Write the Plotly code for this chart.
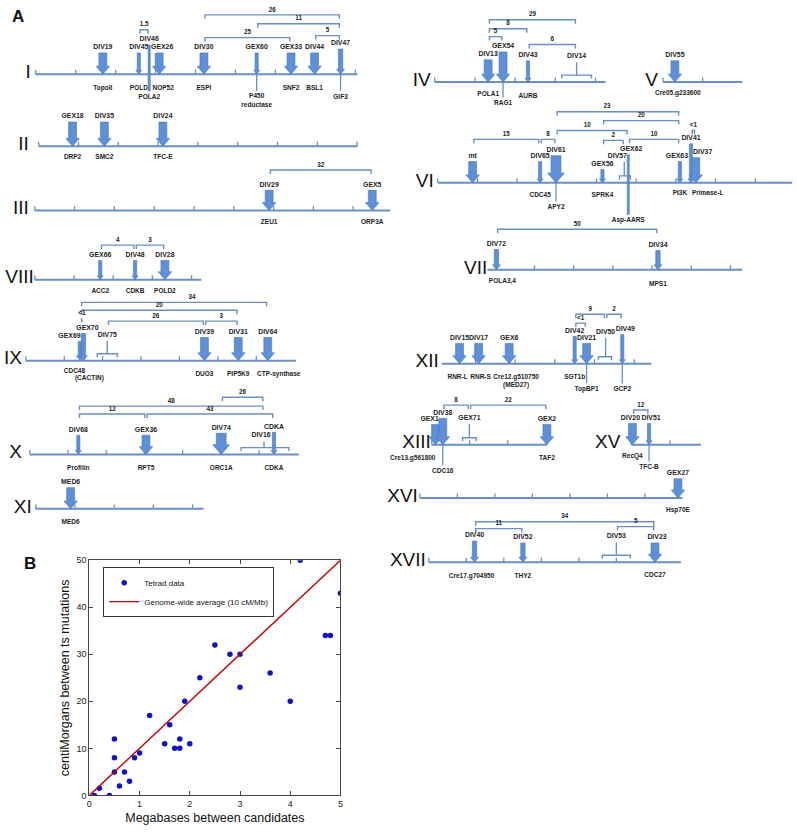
import plotly.graph_objects as go

# ======================= DATA =======================
# ---- Panel B: genetic vs physical distance between candidates ----
mb_between = [0.1, 0.2, 0.4, 0.5, 0.5, 0.5, 0.6, 0.7, 0.8, 0.9, 1.0, 1.2, 1.5, 1.6, 1.7,
              1.8, 1.8, 1.9, 2.0, 2.2, 2.5, 2.8, 3.0, 3.0, 3.6, 4.0, 4.2, 4.7, 4.8, 5.0]
cm_between = [0, 1.5, 0, 5, 8, 12, 2, 5, 3, 8, 9, 17, 11, 15, 10,
              10, 12, 20, 11, 25, 32, 30, 30, 23, 26, 20, 50, 34, 34, 43]
genome_avg_rate = 10          # cM per Mb
avg_mb = [0, 5]

# ---- Panel A: chromosomes (map units = Mb) ----
chrom_names = ["I", "II", "III", "VIII", "IX", "X", "XI", "IV", "V", "VI", "VII",
               "XII", "XIII", "XV", "XVI", "XVII"]
chrom_start_mb = [0, 0, 0, 0, 0, 0, 0, 0, 0, 0, -0.2, 0.15, 0, 0, 0, 0]
chrom_end_mb = [8.05, 8.0, 8.93, 4.25, 7.03, 7.04, 4.28, 4.25, 2.0, 8.93, 6.3,
                5.43, 3.03, 1.8, 7.0, 6.72]
chrom_ticks_mb = [list(range(0, 9)), list(range(0, 9)), list(range(0, 9)), list(range(0, 5)),
                  list(range(0, 7)), list(range(0, 7)), list(range(0, 5)), list(range(0, 5)),
                  [0, 1], list(range(0, 9)), list(range(1, 7)), list(range(1, 6)),
                  list(range(0, 4)), [0, 1], list(range(0, 7)), list(range(0, 6))]

marker_chrom = (["I"] * 9 + ["II"] * 3 + ["III"] * 2 + ["VIII"] * 3 + ["IX"] * 6 + ["X"] * 5 +
                ["XI"] + ["IV"] * 4 + ["V"] + ["VI"] * 9 + ["VII"] * 2 + ["XII"] * 7 +
                ["XIII"] * 4 + ["XV"] * 2 + ["XVI"] + ["XVII"] * 4)
marker_id = ["DIV19", "DIV45", "DIV46", "GEX26", "DIV30", "GEX60", "GEX33", "DIV44", "DIV47",
             "GEX18", "DIV35", "DIV24",
             "DIV29", "GEX5",
             "GEX66", "DIV48", "DIV28",
             "GEX69", "GEX70", "DIV75", "DIV39", "DIV31", "DIV64",
             "DIV68", "GEX36", "DIV74", "DIV16", "CDKA",
             "MED6",
             "DIV13", "GEX54", "DIV43", "DIV14",
             "DIV55",
             "mt", "DIV65", "DIV61", "GEX56", "DIV57", "GEX62", "GEX63", "DIV41", "DIV37",
             "DIV72", "DIV34",
             "DIV15", "DIV17", "GEX6", "DIV42", "DIV21", "DIV50", "DIV49",
             "GEX1", "DIV38", "GEX71", "GEX2",
             "DIV20", "DIV51",
             "GEX27",
             "DIV40", "DIV52", "DIV53", "DIV23"]
marker_mb = [1.68, 2.58, 2.84, 3.09, 4.21, 5.53, 6.39, 6.98, 7.63,
             0.85, 1.65, 3.12,
             5.89, 8.48,
             1.67, 2.56, 3.32,
             1.42, 1.50, 2.12, 4.65, 5.53, 6.30,
             1.27, 3.04, 5.01, 6.13, 6.39,
             0.89,
             1.33, 1.70, 2.32, 3.53,
             0.30,
             0.88, 2.58, 2.98, 4.15, 4.70, 4.80, 6.10, 6.38, 6.50,
             0.03, 4.15,
             0.60, 1.08, 1.85, 3.50, 3.80, 4.28, 4.70,
             0.10, 0.29, 0.99, 3.03,
             0.03, 0.46,
             6.88,
             1.22, 2.51, 5.00, 6.03]
marker_gene = ["TopoII", "POLD", "POLA2", "NOP52", "ESPI", "P450<br>reductase", "SNF2", "BSL1", "GIF3",
               "DRP2", "SMC2", "TFC-E",
               "ZEU1", "ORP3A",
               "ACC2", "CDKB", "POLD2",
               "CDC48", "(CACTIN)", "", "DUO3", "PIP5K9", "CTP-synthase",
               "Profilin", "RPT5", "ORC1A", "", "CDKA",
               "MED6",
               "POLA1", "RAG1", "AURB", "",
               "Cre05.g233600",
               "", "CDC45", "APY2", "SPRK4", "", "Asp-AARS", "PI3K", "", "Primase-L",
               "POLA3,4", "MPS1",
               "RNR-L", "RNR-S", "Cre12.g510750<br>(MED27)", "SGT1b", "TopBP1", "", "GCP2",
               "Cre13.g561800", "CDC16", "", "TAF2",
               "RecQ4", "TFC-B",
               "Hsp70E",
               "Cre17.g704950", "THY2", "", "CDC27"]

# markers mapped only to an interval
interval_id = ["DIV75", "DIV16", "DIV14", "DIV57", "DIV50", "GEX71", "DIV53"]
interval_lo_mb = [1.86, 5.53, 3.16, 4.58, 4.10, 0.81, 4.63]
interval_hi_mb = [2.38, 6.78, 3.90, 4.85, 4.43, 1.17, 5.37]

# tetrad-measured genetic distances (cM) between marker pairs
bracket_chrom = ["I", "I", "I", "I", "I", "III", "VIII", "VIII",
                 "IX", "IX", "IX", "IX", "IX", "X", "X", "X", "X",
                 "IV", "IV", "IV", "IV",
                 "VI", "VI", "VI", "VI", "VI", "VI", "VI", "VI",
                 "VII", "XII", "XII", "XII", "XIII", "XIII", "XV",
                 "XVII", "XVII", "XVII"]
bracket_from = ["DIV45", "DIV30", "DIV30", "GEX60", "DIV44", "DIV29", "GEX66", "DIV48",
                "GEX69", "GEX69", "GEX69", "DIV75", "DIV39", "DIV68", "DIV74", "DIV68", "GEX36",
                "DIV13", "DIV13", "DIV13", "DIV43",
                "DIV61", "GEX56", "DIV61", "mt", "DIV65", "GEX56", "GEX62", "DIV41",
                "DIV72", "DIV42", "DIV50", "DIV42", "DIV38", "GEX71", "DIV20",
                "DIV40", "DIV40", "DIV53"]
bracket_to = ["DIV46", "GEX33", "DIV47", "DIV47", "DIV47", "GEX5", "DIV48", "DIV28",
              "DIV64", "DIV31", "GEX70", "DIV39", "DIV31", "DIV16", "DIV16", "GEX36", "CDKA",
              "DIV14", "DIV43", "GEX54", "DIV14",
              "GEX63", "GEX63", "GEX62", "DIV65", "DIV61", "DIV57", "GEX63", "DIV37",
              "DIV34", "DIV50", "DIV49", "DIV21", "GEX71", "GEX2", "DIV51",
              "DIV23", "DIV52", "DIV23"]
bracket_cm = ["1.5", "25", "26", "11", "5", "32", "4", "3",
              "34", "20", "<1", "26", "3", "48", "26", "12", "43",
              "29", "8", "5", "6",
              "23", "20", "10", "15", "8", "2", "10", "<1",
              "50", "9", "2", "<1", "8", "22", "12",
              "34", "11", "5"]

# ======================= LAYOUT / STYLE =======================
W, H = 797, 832
chrom_x0 = [33, 36, 32, 32, 23, 27, 33, 435, 665, 438, 496, 436, 432, 633, 420, 429]
chrom_y = [70, 143, 208, 278, 360, 455, 510, 78, 78, 180, 268, 363, 445, 445, 499, 564]
chrom_px_per_mb = [40.25, 40.1, 40.1, 39.5, 38.7, 38.5, 39.5, 40.5, 40, 40, 39.5, 40,
                   38.3, 39, 37.8, 37.8]
roman_right = [28, 26, 26, 31, 19, 19, 29, 431, 660, 434, 488, 439, 431, 622, 418, 426]

marker_kind = ["big", "thin", "line", "big", "big", "thin", "big", "big", "mid",
               "big", "big", "big",
               "big", "big",
               "thin", "thin", "big",
               "mid", "mid", "brace", "big", "big", "big",
               "thin", "big", "huge", "brace", "thin",
               "big",
               "big", "big", "thin", "brace",
               "big",
               "big", "thin", "huge", "thin", "brace", "line", "thin", "thin", "big",
               "mid", "mid",
               "big", "big", "big", "thin", "big", "brace", "thin",
               "big", "big", "brace", "big",
               "big", "thin",
               "big",
               "mid", "mid", "brace", "big"]
marker_rise = [27, 27, 35, 27, 27, 27, 27, 27, 31,
               30, 30, 30,
               26, 26,
               25, 25, 25,
               25, 33, 26, 29, 29, 29,
               25, 25, 27, 19, 28,
               27,
               28, 36, 27, 26,
               27,
               27, 27, 33, 19, 27, 34, 27, 45, 31,
               26, 25,
               26, 26, 26, 33, 26, 32, 35,
               26, 32, 27, 26,
               27, 27,
               25,
               27, 25, 26, 25]
marker_drop = [14, 14, 23, 14, 14, 27, 14, 14, 23,
               11, 11, 11,
               12, 12,
               12, 12, 12,
               11, 18, 0, 14, 14, 14,
               14, 14, 14, 0, 14,
               14,
               12, 22, 14, 0,
               11,
               0, 13, 25, 13, 0, 38, 11, 0, 11,
               12, 15,
               14, 14, 18, 14, 26, 0, 26,
               14, 27, 0, 14,
               12, 23,
               13,
               14, 14, 0, 13]
label_dx = {"GEX26": 3, "GEX69": -11, "GEX70": 4, "DIV16": -3, "DIV37": 7, "DIV57": -7,
            "GEX62": 3, "GEX1": -6, "DIV49": 3, "DIV23": 2, "DIV20": -2, "DIV51": 2,
            "GEX63": -3}
gene_dx = {"NOP52": 4, "CDC48": -6, "(CACTIN)": 6, "Cre05.g233600": 3, "Primase-L": 12,
           "POLA3,4": 6, "Cre12.g510750<br>(MED27)": 7, "Cre13.g561800": -23,
           "Cre17.g704950": -3, "RNR-S": 2, "RNR-L": -2, "CTP-synthase": 11}
arrow_size = {"huge": (5.0, 8.5, 10), "big": (4.0, 6.8, 8), "mid": (2.2, 4.0, 5),
              "thin": (1.6, 3.0, 4)}
bracket_rise = [45, 37, 60, 51, 39, 41, 35, 35,
                59, 51, 43, 40, 40, 49, 58, 41, 41,
                63, 54, 46, 38,
                72, 63, 53, 44, 44, 43, 44, 53,
                41, 50, 50, 41, 40, 40, 35,
                41, 34, 36]
bracket_label_dx = {8: 18, 21: -11, 23: -5}

CHR_COLOR = "#6a8fc2"
ARROW_FILL = "#5d90d6"
ARROW_EDGE = "#4676bb"
TEXT_COLOR = "#222222"
FONT = "Liberation Sans"

cidx = {n: i for i, n in enumerate(chrom_names)}
midx = {m: i for i, m in enumerate(marker_id)}


def to_px(ch, mb):
    i = cidx[ch]
    return chrom_x0[i] + mb * chrom_px_per_mb[i]


def line_y(ch):
    return chrom_y[cidx[ch]]


fig = go.Figure()
shapes = []

# chromosome backbones
bx, by = [], []
for i, ch in enumerate(chrom_names):
    y = chrom_y[i]
    bx += [to_px(ch, chrom_start_mb[i]), to_px(ch, chrom_end_mb[i]), None]
    by += [y, y, None]
fig.add_trace(go.Scatter(x=bx, y=by, mode="lines", line=dict(color=CHR_COLOR, width=2),
                         hoverinfo="skip", showlegend=False))
# ticks
tx, ty = [], []
for i, ch in enumerate(chrom_names):
    y = chrom_y[i]
    for t in chrom_ticks_mb[i]:
        x = to_px(ch, t)
        tx += [x, x, None]
        ty += [y - 4.5, y, None]
fig.add_trace(go.Scatter(x=tx, y=ty, mode="lines", line=dict(color=CHR_COLOR, width=1.3),
                         hoverinfo="skip", showlegend=False))

# interval braces + stems
ix_, iy_ = [], []
for k, mid_ in enumerate(interval_id):
    i = midx[mid_]
    ch = marker_chrom[i]
    y = line_y(ch)
    xl, xh = to_px(ch, interval_lo_mb[k]), to_px(ch, interval_hi_mb[k])
    ix_ += [xl, xl, xh, xh, None]
    iy_ += [y - 3.5, y - 7, y - 7, y - 3.5, None]
    xc = to_px(ch, marker_mb[i])
    ix_ += [xc, xc, None]
    iy_ += [y - marker_rise[i] + 6, y - 7, None]
fig.add_trace(go.Scatter(x=ix_, y=iy_, mode="lines", line=dict(color=CHR_COLOR, width=1.4),
                         hoverinfo="skip", showlegend=False))

# brackets (cM distances)
kx, ky, lx, lyv, lt = [], [], [], [], []
for k in range(len(bracket_cm)):
    ch = bracket_chrom[k]
    y = line_y(ch)
    xa = to_px(ch, marker_mb[midx[bracket_from[k]]]) + 1.2
    xb = to_px(ch, marker_mb[midx[bracket_to[k]]]) - 1.2
    yb = y - bracket_rise[k]
    kx += [xa, xa, xb, xb, None]
    ky += [yb + 4, yb, yb, yb + 4, None]
    lx.append((xa + xb) / 2 + bracket_label_dx.get(k, 0))
    lyv.append(yb - 5)
    lt.append(bracket_cm[k])
fig.add_trace(go.Scatter(x=kx, y=ky, mode="lines", line=dict(color=CHR_COLOR, width=1.4),
                         hoverinfo="skip", showlegend=False))
fig.add_trace(go.Scatter(x=lx, y=lyv, mode="text", text=lt, textposition="middle center",
                         textfont=dict(family=FONT, size=6.3, color=TEXT_COLOR, weight="bold"),
                         hoverinfo="skip", showlegend=False))

# arrows, lines and labels
ex, ey = [], []
top_x, top_y, top_t = [], [], []
gx, gy, gt = [], [], []
for i, mid_ in enumerate(marker_id):
    ch = marker_chrom[i]
    y = line_y(ch)
    cx = to_px(ch, marker_mb[i])
    top = y - marker_rise[i] + 5.5
    kind = marker_kind[i]
    gene = marker_gene[i]
    drop = marker_drop[i]
    if kind in arrow_size:
        w, hw, hl = arrow_size[kind]
        path = (f"M {cx - w},{top} L {cx + w},{top} L {cx + w},{y - hl} L {cx + hw},{y - hl} "
                f"L {cx},{y} L {cx - hw},{y - hl} L {cx - w},{y - hl} Z")
        shapes.append(dict(type="path", path=path, xref="x", yref="y",
                           fillcolor=ARROW_FILL, line=dict(color=ARROW_EDGE, width=0.6),
                           layer="above"))
    elif kind == "line":
        bottom = y + drop - (10 if "<br>" in gene else 6)
        shapes.append(dict(type="rect", x0=cx - 1.1, x1=cx + 1.1, y0=top, y1=bottom,
                           xref="x", yref="y", fillcolor=ARROW_FILL,
                           line=dict(color=ARROW_EDGE, width=0.5), layer="above"))
    if gene and drop >= 20 and kind != "line":
        ex += [cx, cx, None]
        ey += [y, y + drop - (10 if "<br>" in gene else 6), None]
    top_x.append(cx + label_dx.get(mid_, 0))
    top_y.append(y - marker_rise[i])
    top_t.append(mid_)
    if gene:
        gx.append(cx + gene_dx.get(gene, 0))
        gy.append(y + drop)
        gt.append(gene)

fig.add_trace(go.Scatter(x=ex, y=ey, mode="lines", line=dict(color=CHR_COLOR, width=1.3),
                         hoverinfo="skip", showlegend=False))
fig.add_trace(go.Scatter(x=top_x, y=top_y, mode="text", text=top_t, textposition="middle center",
                         textfont=dict(family=FONT, size=6.9, color=TEXT_COLOR, weight="bold"),
                         hoverinfo="skip", showlegend=False))
fig.add_trace(go.Scatter(x=gx, y=gy, mode="text", text=gt, textposition="middle center",
                         textfont=dict(family=FONT, size=6.5, color=TEXT_COLOR, weight="bold"),
                         hoverinfo="skip", showlegend=False))
# roman numerals
fig.add_trace(go.Scatter(x=roman_right, y=[y - 1 for y in chrom_y], mode="text", text=chrom_names,
                         textposition="middle left",
                         textfont=dict(family=FONT, size=19, color="#111111"),
                         hoverinfo="skip", showlegend=False))

# ======================= PANEL B =======================
fig.add_trace(go.Scatter(x=mb_between, y=cm_between, mode="markers", name="Tetrad data",
                         marker=dict(color="#1010c4", size=5.5), xaxis="x2", yaxis="y2"))
fig.add_trace(go.Scatter(x=avg_mb, y=[genome_avg_rate * v for v in avg_mb], mode="lines",
                         name="Genome-wide average (10 cM/Mb)",
                         line=dict(color="#c00000", width=1.4), xaxis="x2", yaxis="y2"))

axis_common = dict(showgrid=False, zeroline=False, ticks="inside", ticklen=4, showline=True,
                   mirror="ticks", linecolor="#444444", linewidth=1, tickcolor="#444444",
                   tickfont=dict(family=FONT, size=9, color="#222222"))

fig.update_layout(
    width=W, height=H, margin=dict(l=0, r=0, t=0, b=0),
    paper_bgcolor="white", plot_bgcolor="rgba(0,0,0,0)",
    xaxis=dict(domain=[0, 1], range=[0, W], visible=False, fixedrange=True),
    yaxis=dict(domain=[0, 1], range=[H, 0], visible=False, fixedrange=True),
    xaxis2=dict(domain=[87 / W, 340 / W], range=[0, 5], dtick=1, anchor="y2",
                title=dict(text="Megabases between candidates", standoff=5,
                           font=dict(family=FONT, size=12.5, color="#111111")), **axis_common),
    yaxis2=dict(domain=[1 - 800 / H, 1 - 562 / H], range=[0, 50], dtick=10, anchor="x2",
                title=dict(text="centiMorgans between ts mutations", standoff=4,
                           font=dict(family=FONT, size=12.5, color="#111111")), **axis_common),
    shapes=shapes,
    showlegend=True,
    legend=dict(x=101 / W, y=1 - 569 / H, xanchor="left", yanchor="top", bgcolor="white",
                bordercolor="#333333", borderwidth=1, itemwidth=30, tracegroupgap=0,
                font=dict(family=FONT, size=8, color="#111111")),
    annotations=[
        dict(text="<b>A</b>", x=15, y=12, xref="x", yref="y", showarrow=False,
             font=dict(family=FONT, size=17, color="#111111")),
        dict(text="<b>B</b>", x=27, y=565, xref="x", yref="y", showarrow=False,
             font=dict(family=FONT, size=17, color="#111111")),
    ],
)

fig.write_html("out.html", config={"displayModeBar": False},
               post_script="document.body.style.margin='0px';")
